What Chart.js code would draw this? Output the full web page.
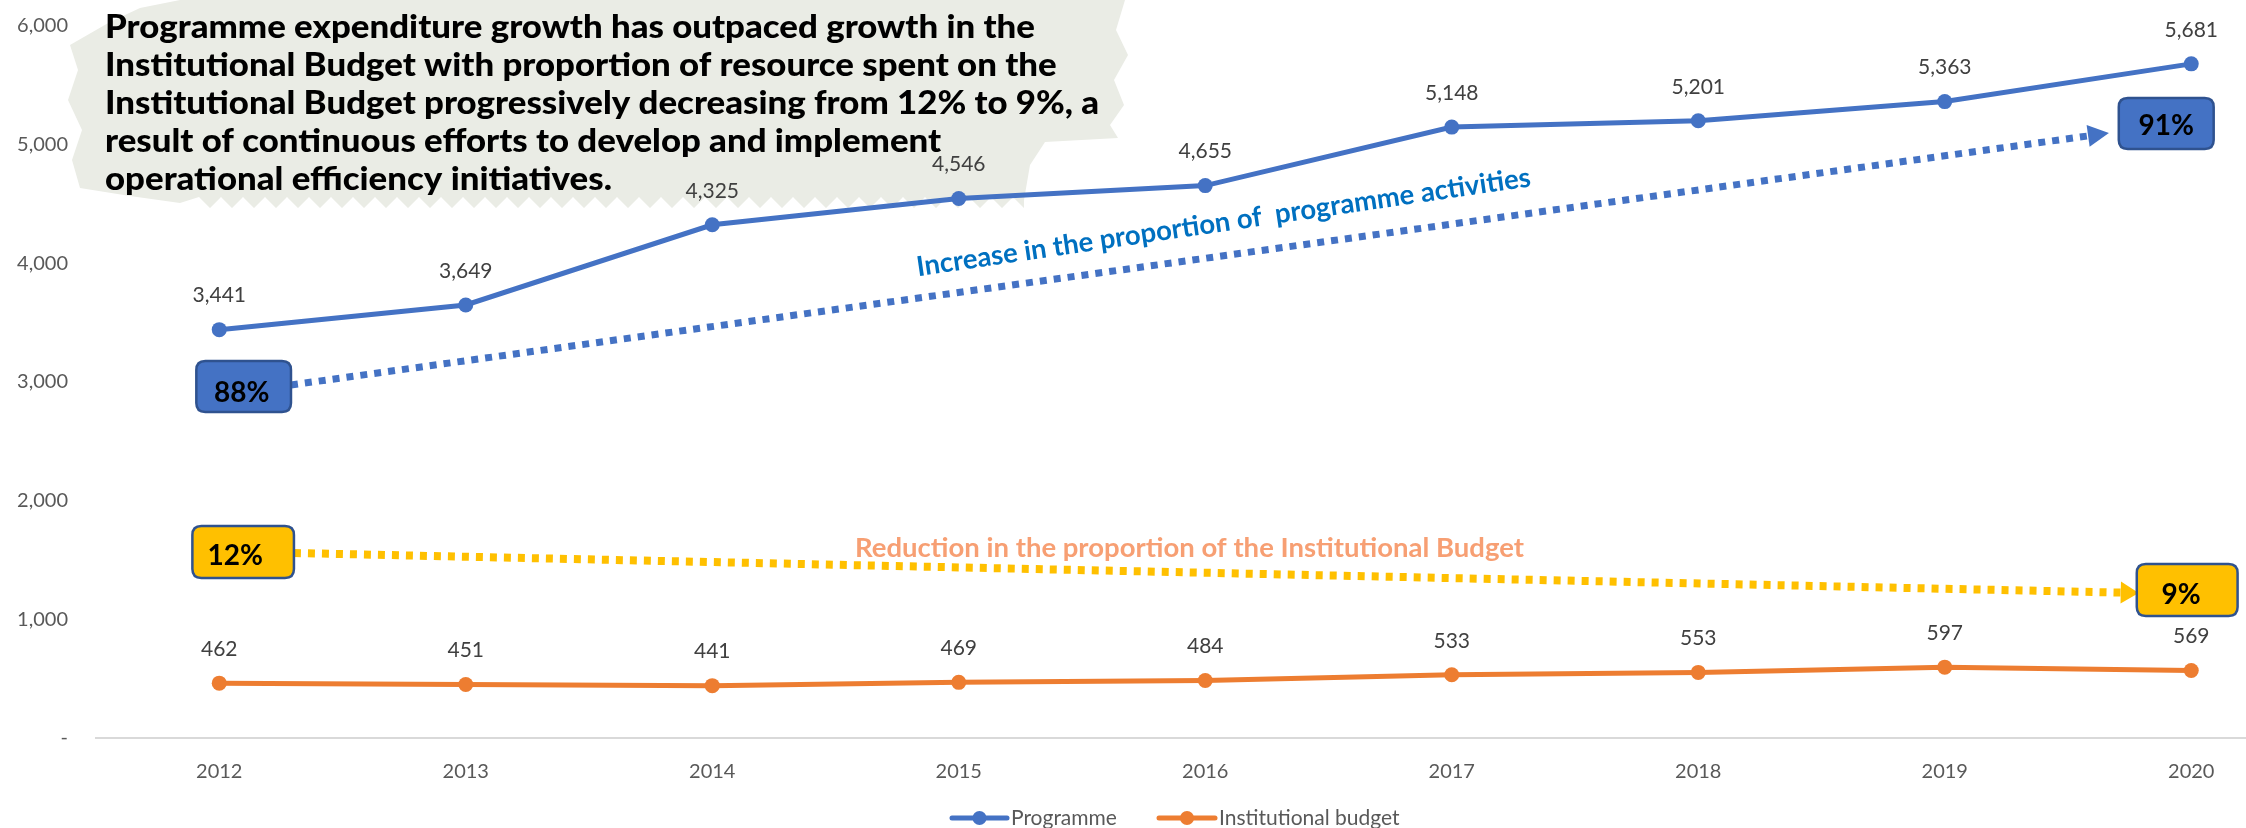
<!DOCTYPE html>
<html>
<head>
<meta charset="utf-8">
<script src="https://cdn.jsdelivr.net/npm/chart.js@4.4.1/dist/chart.umd.min.js"></script>
<style>
  html, body { margin: 0; padding: 0; background: #ffffff; overflow: hidden; }
  #wrap { position: relative; width: 2322px; height: 828px; }
</style>
</head>
<body>
<div id="wrap"><canvas id="c"></canvas></div>
<script>
// ---- data ----
const categories = ['2012', '2013', '2014', '2015', '2016', '2017', '2018', '2019', '2020'];
const programme = [3441, 3649, 4325, 4546, 4655, 5148, 5201, 5363, 5681];
const institutional = [462, 451, 441, 469, 484, 533, 553, 597, 569];
const seriesNames = ['Programme', 'Institutional budget'];
const yTickValues = [0, 1000, 2000, 3000, 4000, 5000, 6000];
const shareStart = ['88%', '12%'];
const shareEnd = ['91%', '9%'];
const titleLines = [
  'Programme expenditure growth has outpaced growth in the',
  'Institutional Budget with proportion of resource spent on the',
  'Institutional Budget progressively decreasing from 12% to 9%, a',
  'result of continuous efforts to develop and implement',
  'operational efficiency initiatives.'
];
const trendTexts = ['Increase in the proportion of  programme activities', 'Reduction in the proportion of the Institutional Budget'];

const BLUE = '#4472C4', ORANGE = '#ED7D31', GOLD = '#FFC000', BOXEDGE = '#2F528F';
const FONT = 'Lato, "Open Sans", sans-serif';

function fmt(v) { return v === 0 ? '-' : v.toLocaleString('en-US'); }

function roundRect(ctx, x, y, w, h, r) {
  ctx.beginPath();
  ctx.moveTo(x + r, y);
  ctx.lineTo(x + w - r, y); ctx.quadraticCurveTo(x + w, y, x + w, y + r);
  ctx.lineTo(x + w, y + h - r); ctx.quadraticCurveTo(x + w, y + h, x + w - r, y + h);
  ctx.lineTo(x + r, y + h); ctx.quadraticCurveTo(x, y + h, x, y + h - r);
  ctx.lineTo(x, y + r); ctx.quadraticCurveTo(x, y, x + r, y);
  ctx.closePath();
}

function fitSize(ctx, text, weight, targetW) {
  ctx.font = weight + ' 100px ' + FONT;
  return 100 * targetW / ctx.measureText(text).width;
}

const backgroundPlugin = {
  id: 'bgTitle',
  beforeDraw(chart) {
    const ctx = chart.ctx;
    ctx.save();
    ctx.fillStyle = '#ffffff';
    ctx.fillRect(0, 0, chart.width, chart.height);
    // brush-stroke blob behind title
    ctx.fillStyle = '#EAECE5';
    ctx.beginPath();
    ctx.moveTo(180, 0);
    ctx.lineTo(1125, 0);
    ctx.lineTo(1116, 30); ctx.lineTo(1128, 55); ctx.lineTo(1114, 80);
    ctx.lineTo(1124, 105); ctx.lineTo(1110, 125); ctx.lineTo(1118, 138);
    ctx.lineTo(1045, 142); ctx.lineTo(1030, 165); ctx.lineTo(1024, 200);
    for (let x = 1024, k = 0; x > 190; x -= 11, k++) {
      ctx.lineTo(x, k % 2 ? 197 : 208);
    }
    ctx.lineTo(180, 203); ctx.lineTo(130, 196); ctx.lineTo(80, 188);
    ctx.lineTo(72, 160); ctx.lineTo(82, 130); ctx.lineTo(68, 100);
    ctx.lineTo(78, 70); ctx.lineTo(70, 45); ctx.lineTo(110, 22);
    ctx.lineTo(140, 8);
    ctx.closePath();
    ctx.fill();
    ctx.restore();
  },
  afterDraw(chart) {
    const ctx = chart.ctx;
    ctx.save();
    // title text, condensed to fit
    const size = 33;
    ctx.font = '900 ' + size + 'px ' + FONT;
    const sx = 930 / ctx.measureText(titleLines[0]).width;
    ctx.fillStyle = '#000000';
    ctx.textBaseline = 'middle';
    ctx.textAlign = 'left';
    const ys = [27, 65, 103, 141, 179];
    titleLines.forEach((t, i) => {
      ctx.save();
      ctx.translate(105, ys[i]);
      ctx.scale(sx, 1.0);
      ctx.fillText(t, 0, 0);
      ctx.restore();
    });
    ctx.restore();
  }
};

const annotationPlugin = {
  id: 'annots',
  afterDatasetsDraw(chart) {
    const ctx = chart.ctx;
    const xs = chart.scales.x, ys = chart.scales.y;
    const P = (i, v) => [xs.getPixelForValue(i), ys.getPixelForValue(v)];
    ctx.save();

    function dotted(a, b, color, width, headLen, headHalf) {
      const ang = Math.atan2(b[1] - a[1], b[0] - a[0]);
      const bx = b[0] - headLen * Math.cos(ang), by = b[1] - headLen * Math.sin(ang);
      ctx.strokeStyle = color;
      ctx.lineWidth = width;
      ctx.lineCap = 'butt';
      ctx.setLineDash([7, 7]);
      ctx.beginPath(); ctx.moveTo(a[0], a[1]); ctx.lineTo(bx, by); ctx.stroke();
      ctx.setLineDash([]);
      ctx.fillStyle = color;
      ctx.beginPath();
      ctx.moveTo(b[0], b[1]);
      ctx.lineTo(bx - headHalf * Math.sin(ang), by + headHalf * Math.cos(ang));
      ctx.lineTo(bx + headHalf * Math.sin(ang), by - headHalf * Math.cos(ang));
      ctx.closePath(); ctx.fill();
    }
    // dotted arrows
    dotted(P(0.291, 2975), P(7.666, 5098), BLUE, 7, 21, 11);
    dotted(P(0.303, 1559), P(7.787, 1222), GOLD, 8, 18, 11);

    function box(i0, v0, i1, v1, fill, text, dx, dy) {
      const a = P(i0, v0), b = P(i1, v1);
      ctx.fillStyle = fill;
      ctx.strokeStyle = BOXEDGE;
      ctx.lineWidth = 2.5;
      roundRect(ctx, a[0], a[1], b[0] - a[0], b[1] - a[1], 9);
      ctx.fill(); ctx.stroke();
      ctx.fillStyle = '#000000';
      ctx.font = '700 28px ' + FONT;
      ctx.textAlign = 'center';
      ctx.textBaseline = 'middle';
      ctx.fillText(text, (a[0] + b[0]) / 2 + dx, (a[1] + b[1]) / 2 + dy);
    }
    box(-0.093, 3177, 0.291, 2747, BLUE, shareStart[0], -2, 6);
    box(-0.109, 1786, 0.303, 1348, GOLD, shareStart[1], -8, 4);
    box(7.706, 5393, 8.091, 4963, BLUE, shareEnd[0], 0, 2);
    box(7.779, 1466, 8.188, 1028, GOLD, shareEnd[1], -6, 5);

    // trend texts
    let c = P(4.074, 4345);
    let fs = fitSize(ctx, trendTexts[0], '700', 620);
    ctx.save();
    ctx.translate(c[0], c[1]);
    ctx.rotate(-8.35 * Math.PI / 180);
    ctx.font = '700 ' + fs.toFixed(1) + 'px ' + FONT;
    ctx.fillStyle = '#0070C0';
    ctx.textAlign = 'center'; ctx.textBaseline = 'middle';
    ctx.fillText(trendTexts[0], 0, 0);
    ctx.restore();

    c = P(3.936, 1601);
    fs = fitSize(ctx, trendTexts[1], '700', 668);
    ctx.font = '700 ' + fs.toFixed(1) + 'px ' + FONT;
    ctx.fillStyle = '#F79F73';
    ctx.textAlign = 'center'; ctx.textBaseline = 'middle';
    ctx.fillText(trendTexts[1], c[0], c[1]);

    // data labels
    ctx.font = '21px ' + FONT;
    ctx.fillStyle = '#404040';
    chart.data.datasets.forEach((ds, di) => {
      const meta = chart.getDatasetMeta(di);
      meta.data.forEach((pt, i) => {
        ctx.fillText(fmt(ds.data[i]), pt.x, pt.y - 34);
      });
    });

    // legend
    const ly = 818;
    const items = [
      { color: BLUE, x0: 952, x1: 1007, tx: 1011, label: seriesNames[0] },
      { color: ORANGE, x0: 1159, x1: 1215, tx: 1219, label: seriesNames[1] }
    ];
    items.forEach(it => {
      ctx.strokeStyle = it.color; ctx.lineWidth = 5; ctx.lineCap = 'round';
      ctx.beginPath(); ctx.moveTo(it.x0, ly); ctx.lineTo(it.x1, ly); ctx.stroke();
      ctx.fillStyle = it.color;
      ctx.beginPath(); ctx.arc((it.x0 + it.x1) / 2, ly, 7, 0, Math.PI * 2); ctx.fill();
      ctx.fillStyle = '#595959';
      ctx.font = '21px ' + FONT;
      ctx.textAlign = 'left'; ctx.textBaseline = 'middle';
      ctx.fillText(it.label, it.tx, ly);
    });
    ctx.restore();
  }
};

new Chart(document.getElementById('c'), {
  type: 'line',
  data: {
    labels: categories,
    datasets: [
      { label: seriesNames[0], data: programme, borderColor: BLUE, backgroundColor: BLUE,
        borderWidth: 5, pointRadius: 7.5, pointBackgroundColor: BLUE, pointBorderWidth: 0, tension: 0 },
      { label: seriesNames[1], data: institutional, borderColor: ORANGE, backgroundColor: ORANGE,
        borderWidth: 5, pointRadius: 7.5, pointBackgroundColor: ORANGE, pointBorderWidth: 0, tension: 0 }
    ]
  },
  options: {
    responsive: true,
    maintainAspectRatio: false,
    animation: false,
    devicePixelRatio: 1,
    layout: { padding: { top: 26, right: 0, bottom: 0, left: 0 } },
    plugins: { legend: { display: false }, tooltip: { enabled: false } },
    scales: {
      x: {
        offset: true,
        grid: { display: false, drawTicks: false },
        border: { display: true, color: '#D9D9D9', width: 2 },
        ticks: { color: '#595959', font: { family: FONT, size: 20 }, padding: 22, maxRotation: 0 },
        afterFit(s) { s.height = 90; s.paddingLeft = 0; s.paddingRight = 0; }
      },
      y: {
        min: 0, max: 6000,
        grid: { display: false, drawTicks: false },
        border: { display: false },
        afterBuildTicks(s) { s.ticks = yTickValues.map(v => ({ value: v })); },
        ticks: { color: '#595959', font: { family: FONT, size: 20 }, padding: 28, callback: v => fmt(v) },
        afterFit(s) { s.width = 96; s.paddingTop = 0; s.paddingBottom = 0; }
      }
    }
  },
  plugins: [backgroundPlugin, annotationPlugin]
});
</script>
</body>
</html>
